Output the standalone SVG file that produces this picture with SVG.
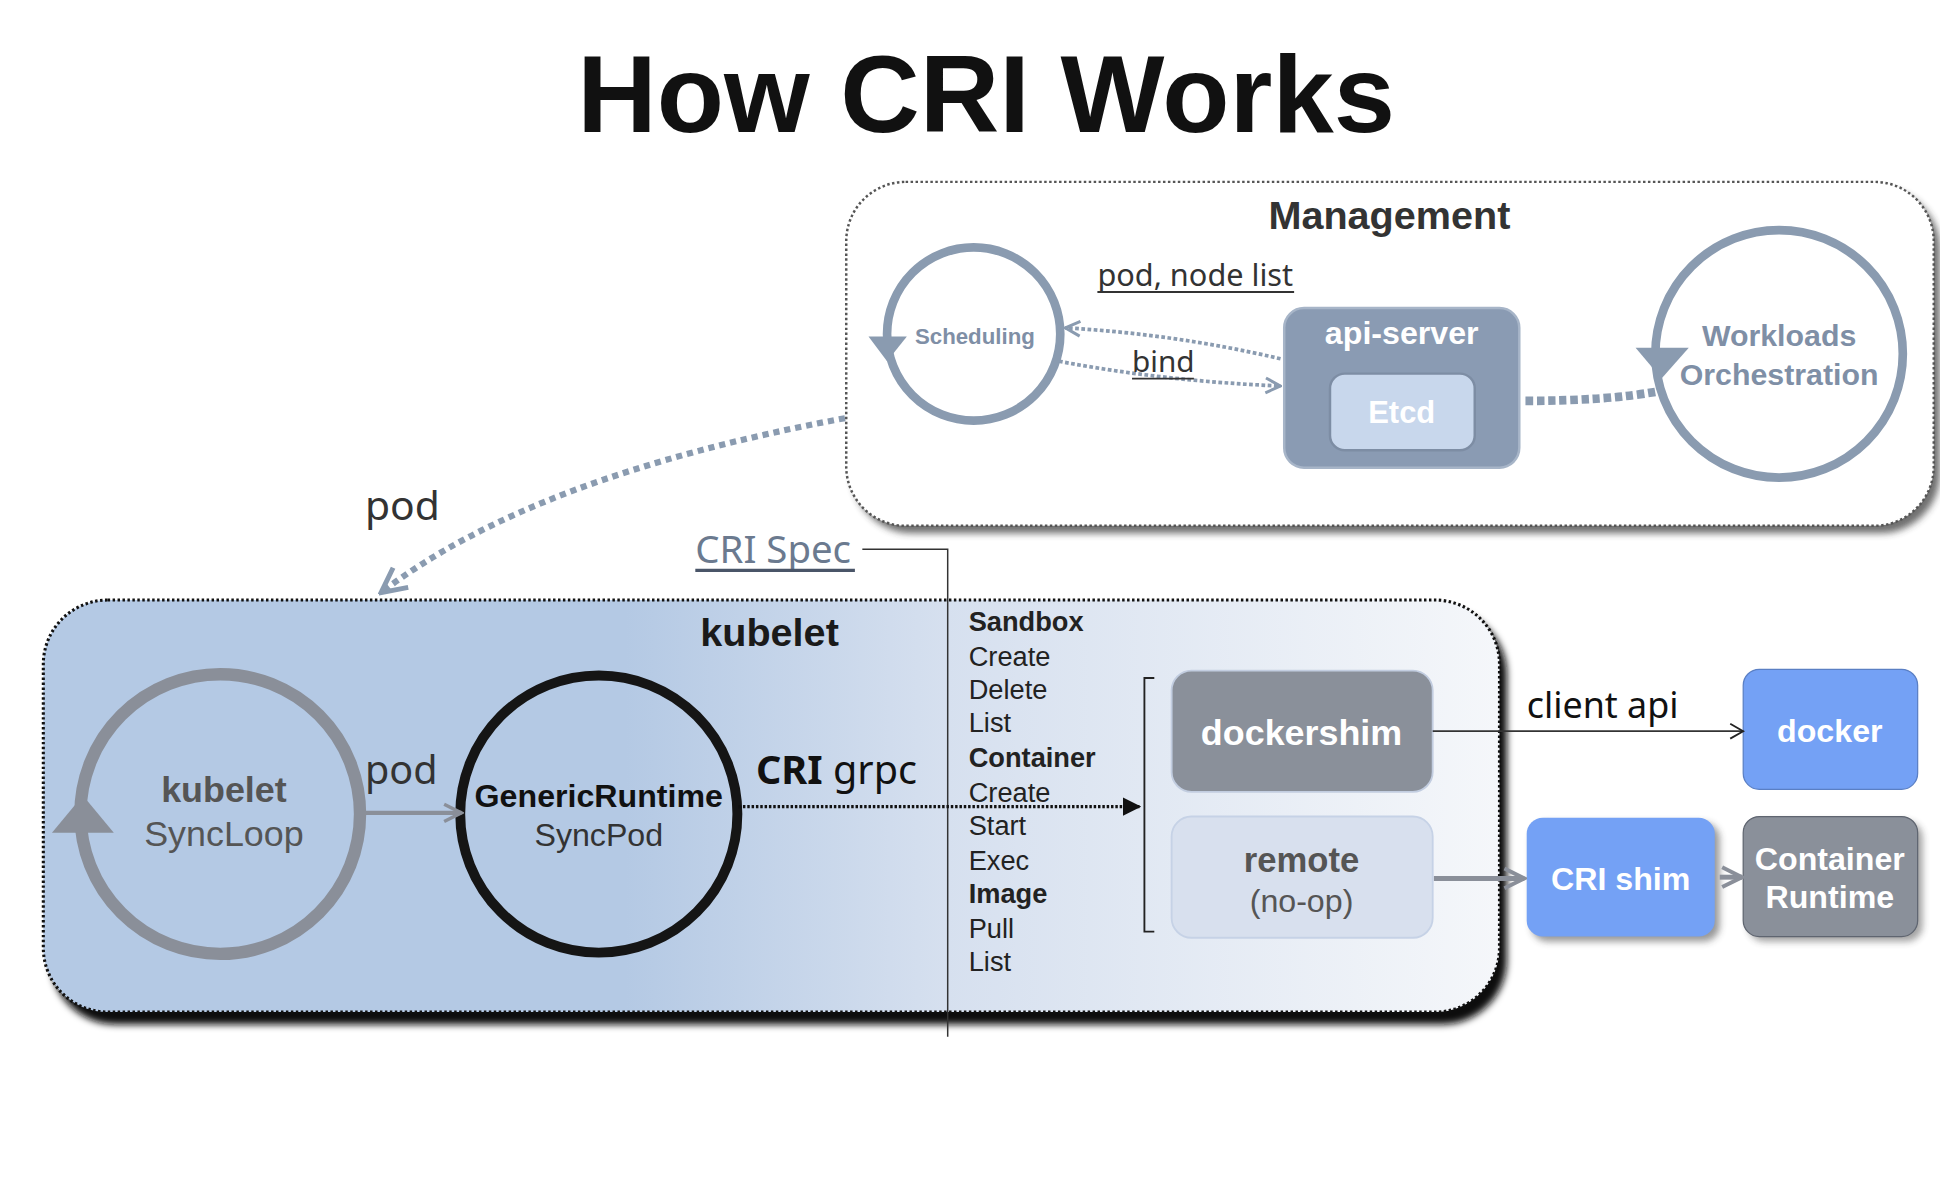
<svg xmlns="http://www.w3.org/2000/svg" width="1940" height="1183" viewBox="0 0 1940 1183">
<defs>
<style>
.sans{font-family:"Liberation Sans",Arial,sans-serif}
.noto{font-family:"Noto Sans","DejaVu Sans",sans-serif}
.b{font-weight:bold}
.wt{fill:#ffffff}
.loop{fill:none;stroke:#8a9bb0;stroke-width:7}
.list{font-family:"Liberation Sans",Arial,sans-serif;font-size:22px;fill:#222}
</style>
<linearGradient id="kgrad" x1="35" y1="0" x2="1212" y2="0" gradientUnits="userSpaceOnUse">
<stop offset="0" stop-color="#b4c9e4"/>
<stop offset="0.4" stop-color="#b4c9e4"/>
<stop offset="0.62" stop-color="#d6e0ef"/>
<stop offset="1" stop-color="#f5f7fa"/>
</linearGradient>
<filter id="blur" x="-10%" y="-10%" width="120%" height="130%"><feGaussianBlur stdDeviation="3"/></filter>
<marker id="openGray" viewBox="0 0 10 10" refX="9" refY="5" markerWidth="5" markerHeight="5" orient="auto" markerUnits="strokeWidth"><path d="M1,1 L9,5 L1,9" fill="none" stroke="#8a8f99" stroke-width="1.6"/></marker>
<marker id="openBlue" viewBox="0 0 10 10" refX="9" refY="5" markerWidth="5" markerHeight="5" orient="auto" markerUnits="strokeWidth"><path d="M1,1 L9,5 L1,9" fill="none" stroke="#8a9bb0" stroke-width="1.6"/></marker>
<marker id="openBlack" viewBox="0 0 10 10" refX="9" refY="5" markerWidth="10" markerHeight="10" orient="auto" markerUnits="strokeWidth"><path d="M2,1 L9,5 L2,9" fill="none" stroke="#222" stroke-width="1"/></marker>
<marker id="fillBlack" viewBox="0 0 10 10" refX="9" refY="5" markerWidth="6" markerHeight="6" orient="auto" markerUnits="strokeWidth"><path d="M0,0 L10,5 L0,10 z" fill="#111"/></marker>
</defs>
<rect width="1940" height="1183" fill="#ffffff"/>
<g transform="scale(1.2372)">
<text class="sans b" x="797" y="107" font-size="89" text-anchor="middle" fill="#111">How CRI Works</text>

<g id="management">
<rect x="689" y="153" width="879" height="278" rx="48" fill="#333" opacity="0.7" filter="url(#blur)"/>
<rect x="684" y="147" width="879" height="278" rx="48" fill="#ffffff" stroke="#555" stroke-width="2" stroke-dasharray="2 2"/>
<text class="sans b" x="1123" y="185" font-size="32" text-anchor="middle" fill="#333">Management</text>
</g>

<g id="scheduling">
<circle cx="787" cy="270" r="70" class="loop"/>
<path d="M702,272 L733,272 L717,292 z" fill="#8a9bb0"/>
<text class="sans b" x="788" y="278" font-size="18" text-anchor="middle" fill="#7f8fa6">Scheduling</text>
</g>

<g id="api-server">
<rect x="1038" y="249" width="190" height="129" rx="16" fill="#8a9bb3" stroke="#a7b5c8" stroke-width="2"/>
<text class="sans b wt" x="1133" y="278" font-size="26" text-anchor="middle">api-server</text>
<g id="etcd">
<rect x="1075" y="302" width="117" height="62" rx="12" fill="#c8d7ec" stroke="#7d8da4" stroke-width="2"/>
<text class="sans b wt" x="1133" y="342" font-size="25" text-anchor="middle">Etcd</text>
</g>
</g>

<g id="workloads">
<circle cx="1438" cy="286" r="100" class="loop"/>
<path d="M1322,281 L1365,281 L1343,306 z" fill="#8a9bb0"/>
<text class="sans b" x="1438" y="280" font-size="24.5" text-anchor="middle" fill="#7f8fa6">Workloads</text>
<text class="sans b" x="1438" y="311" font-size="24.5" text-anchor="middle" fill="#7f8fa6">Orchestration</text>
</g>

<g id="kubelet">
<rect x="41" y="493" width="1177" height="335" rx="52" fill="#111" filter="url(#blur)"/>
<rect x="35" y="485" width="1177" height="333" rx="52" fill="url(#kgrad)" stroke="#111" stroke-width="2.5" stroke-dasharray="2 2"/>
<text class="sans b" x="622" y="522" font-size="32" text-anchor="middle" fill="#1a1a1a">kubelet</text>
</g>

<g id="syncloop">
<circle cx="178" cy="658" r="113" fill="none" stroke="#8a8f99" stroke-width="10"/>
<path d="M67,643 L92,673 L42,673 z" fill="#8a8f99"/>
<text class="sans b" x="181" y="648" font-size="29" text-anchor="middle" fill="#555">kubelet</text>
<text class="sans" x="181" y="684" font-size="29" text-anchor="middle" fill="#555">SyncLoop</text>
</g>

<g id="genericruntime">
<circle cx="484" cy="658" r="112" fill="none" stroke="#151515" stroke-width="8"/>
<text class="sans b" x="484" y="652" font-size="26" text-anchor="middle" fill="#111">GenericRuntime</text>
<text class="sans" x="484" y="684" font-size="26" text-anchor="middle" fill="#333">SyncPod</text>
</g>

<g id="cri-list">
<text class="list b" x="783" y="510">Sandbox</text>
<text class="list" x="783" y="538">Create</text>
<text class="list" x="783" y="565">Delete</text>
<text class="list" x="783" y="592">List</text>
<text class="list b" x="783" y="620">Container</text>
<text class="list" x="783" y="648">Create</text>
<text class="list" x="783" y="675">Start</text>
<text class="list" x="783" y="703">Exec</text>
<text class="list b" x="783" y="730">Image</text>
<text class="list" x="783" y="758">Pull</text>
<text class="list" x="783" y="785">List</text>
</g>

<g id="dockershim">
<rect x="947" y="542" width="211" height="98" rx="16" fill="#8a909a" stroke="#c2cde0" stroke-width="1.5"/>
<text class="sans b wt" x="1052" y="602" font-size="29" text-anchor="middle">dockershim</text>
</g>

<g id="remote">
<rect x="947" y="660" width="211" height="98" rx="16" fill="#d8e0ee" stroke="#c6d2e6" stroke-width="1.5"/>
<text class="sans b" x="1052" y="705" font-size="28" text-anchor="middle" fill="#555">remote</text>
<text class="sans" x="1052" y="737" font-size="26" text-anchor="middle" fill="#555">(no-op)</text>
</g>

<g id="docker">
<rect x="1409" y="541" width="141" height="97" rx="13" fill="#74a1f5" stroke="#5a7fc4" stroke-width="1"/>
<text class="sans b wt" x="1479" y="600" font-size="26" text-anchor="middle">docker</text>
</g>

<g id="cri-shim">
<rect x="1238" y="665" width="152" height="96" rx="13" fill="#333" opacity="0.5" filter="url(#blur)"/>
<rect x="1234" y="661" width="152" height="96" rx="13" fill="#74a1f5"/>
<text class="sans b wt" x="1310" y="719" font-size="26" text-anchor="middle">CRI shim</text>
</g>

<g id="container-runtime">
<rect x="1413" y="664" width="141" height="97" rx="13" fill="#333" opacity="0.45" filter="url(#blur)"/>
<rect x="1409" y="660" width="141" height="97" rx="13" fill="#8a909a" stroke="#5f6570" stroke-width="1"/>
<text class="sans b wt" x="1479" y="703" font-size="26" text-anchor="middle">Container</text>
<text class="sans b wt" x="1479" y="734" font-size="26" text-anchor="middle">Runtime</text>
</g>

<g id="connectors">
<path d="M1035,290 Q950,270 861,265" fill="none" stroke="#8a9bb0" stroke-width="3" stroke-dasharray="3 2" marker-end="url(#openBlue)"/>
<path d="M856,292 Q940,308 1035,312" fill="none" stroke="#8a9bb0" stroke-width="3" stroke-dasharray="3 2" marker-end="url(#openBlue)"/>
<path d="M1233,324 Q1300,324 1342,316" fill="none" stroke="#8a9bb0" stroke-width="7" stroke-dasharray="6 3"/>
<path d="M683,338 Q430,385 308,479" fill="none" stroke="#8a9bb0" stroke-width="5" stroke-dasharray="5 4" marker-end="url(#openBlue)"/>
<path d="M697,444 L766,444 L766,838" fill="none" stroke="#333" stroke-width="1.2"/>
<path d="M293,657 L373,657" fill="none" stroke="#8a8f99" stroke-width="3.5" marker-end="url(#openGray)"/>
<path d="M597,652 L921,652" fill="none" stroke="#111" stroke-width="2.5" stroke-dasharray="2 1.5" marker-end="url(#fillBlack)"/>
<path d="M933,548 L925,548 L925,753 L933,753" fill="none" stroke="#222" stroke-width="1.5"/>
<path d="M1158,591 L1409,591" fill="none" stroke="#333" stroke-width="1.5" marker-end="url(#openBlack)"/>
<path d="M1159,710 L1232,710" fill="none" stroke="#8a8f99" stroke-width="4" marker-end="url(#openGray)"/>
<path d="M1390,709 L1408,709" fill="none" stroke="#8a8f99" stroke-width="4" marker-end="url(#openGray)"/>
</g>

<g id="labels">
<text class="noto" x="887" y="231" font-size="24.8" fill="#333">pod, node list</text>
<line x1="887" y1="236" x2="1046" y2="236" stroke="#333" stroke-width="1.5"/>
<text class="noto" x="915" y="301" font-size="24" fill="#333">bind</text>
<line x1="915" y1="306" x2="965" y2="306" stroke="#333" stroke-width="1.5"/>
<text class="noto" x="295" y="420" font-size="33" fill="#333">pod</text>
<text class="noto" x="562" y="455" font-size="31" fill="#6b7a8f">CRI Spec</text>
<line x1="562" y1="461" x2="691" y2="461" stroke="#4a5568" stroke-width="2.5"/>
<text class="noto" x="295" y="634" font-size="32" fill="#333">pod</text>
<text class="noto" x="611" y="634" font-size="32" fill="#111"><tspan font-weight="bold">CRI</tspan> grpc</text>
<text class="noto" x="1234" y="580" font-size="29" fill="#111">client api</text>
</g>
</g>
</svg>
